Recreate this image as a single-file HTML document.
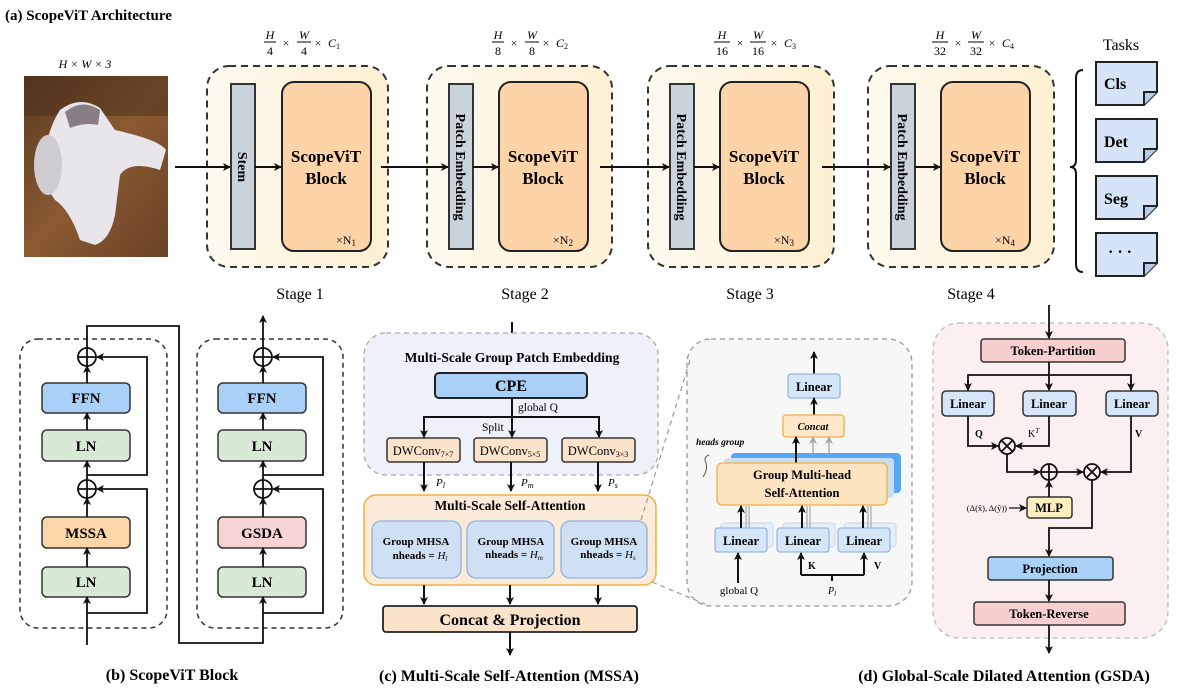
<!DOCTYPE html>
<html><head><meta charset="utf-8"><style>
html,body{margin:0;padding:0;background:#fff;}
svg{display:block;font-family:"Liberation Serif",serif;}
.b{font-weight:bold;}
</style></head><body>
<svg width="1182" height="693" viewBox="0 0 1182 693" xmlns="http://www.w3.org/2000/svg">
<defs>
<marker id="a" markerWidth="8" markerHeight="8" refX="7" refY="4" orient="auto" markerUnits="userSpaceOnUse"><path d="M0,0 L8,4 L0,8 L2,4 z" fill="#111"/></marker>
<marker id="g" markerWidth="8" markerHeight="8" refX="7" refY="4" orient="auto" markerUnits="userSpaceOnUse"><path d="M0,0 L8,4 L0,8 L2,4 z" fill="#aaa"/></marker>
<linearGradient id="yl" x1="0" x2="1"><stop offset="0" stop-color="#fffaf0"/><stop offset="1" stop-color="#fdf0d2"/></linearGradient>
<linearGradient id="cat" x1="0" y1="0" x2="1" y2="1"><stop offset="0" stop-color="#5a3a22"/><stop offset="0.5" stop-color="#8a5a32"/><stop offset="1" stop-color="#6a4226"/></linearGradient>
</defs>

<!-- (a) -->
<text x="5" y="20" class="b" font-size="15">(a) ScopeViT Architecture</text>
<text x="85" y="68" font-size="12" text-anchor="middle" font-style="italic">H × W × 3</text>
<rect x="24" y="76" width="144" height="181" fill="url(#cat)"/>
<rect x="24" y="76" width="144" height="40" fill="#4a2e1a" opacity="0.5"/>
<path d="M60,110 Q80,95 100,108 L115,130 Q160,140 166,150 L160,170 Q130,160 120,175 L115,215 Q110,240 95,245 L80,240 Q70,210 55,200 Q40,180 45,150 Q50,125 60,110z" fill="#e8e6ea"/>
<path d="M65,112 Q82,98 100,110 L98,125 Q85,122 70,128z" fill="#8a7e86"/>
<ellipse cx="48" cy="165" rx="14" ry="30" fill="#cfccd2"/>

<!-- stage boxes -->
<g stroke="#333" stroke-width="2" stroke-dasharray="7,5" fill="url(#yl)">
<rect x="207" y="66" width="181" height="201" rx="22"/>
<rect x="427" y="66" width="185" height="201" rx="22"/>
<rect x="648" y="66" width="186" height="201" rx="22"/>
<rect x="868" y="66" width="186" height="201" rx="22"/>
</g>
<g stroke="#333" stroke-width="2" fill="#c9d3dc">
<rect x="231" y="84" width="24" height="165"/>
<rect x="449" y="84" width="24" height="165"/>
<rect x="670" y="84" width="24" height="165"/>
<rect x="891" y="84" width="24" height="165"/>
</g>
<g stroke="#222" stroke-width="2" fill="#fdd4a8">
<rect x="282" y="82" width="89" height="169" rx="12"/>
<rect x="499" y="82" width="89" height="169" rx="12"/>
<rect x="720" y="82" width="89" height="169" rx="12"/>
<rect x="941" y="82" width="89" height="169" rx="12"/>
</g>
<g class="b" font-size="17" text-anchor="middle">
<text x="326" y="162">ScopeViT</text><text x="326" y="184">Block</text>
<text x="543" y="162">ScopeViT</text><text x="543" y="184">Block</text>
<text x="764" y="162">ScopeViT</text><text x="764" y="184">Block</text>
<text x="985" y="162">ScopeViT</text><text x="985" y="184">Block</text>
</g>
<g class="b" font-size="14" text-anchor="middle">
<text transform="translate(238,167) rotate(90)" y="0">Stem</text>
<text transform="translate(456,167) rotate(90)">Patch Embedding</text>
<text transform="translate(677,167) rotate(90)">Patch Embedding</text>
<text transform="translate(898,167) rotate(90)">Patch Embedding</text>
</g>
<g font-size="12">
<text x="336" y="244">×N<tspan font-size="9" dy="2">1</tspan></text>
<text x="553" y="244">×N<tspan font-size="9" dy="2">2</tspan></text>
<text x="774" y="244">×N<tspan font-size="9" dy="2">3</tspan></text>
<text x="995" y="244">×N<tspan font-size="9" dy="2">4</tspan></text>
</g>
<g stroke="#111" stroke-width="2" marker-end="url(#a)">
<line x1="175" y1="167" x2="230" y2="167"/>
<line x1="255" y1="167" x2="281" y2="167"/>
<line x1="381" y1="167" x2="448" y2="167"/>
<line x1="473" y1="167" x2="498" y2="167"/>
<line x1="600" y1="167" x2="669" y2="167"/>
<line x1="694" y1="167" x2="719" y2="167"/>
<line x1="822" y1="167" x2="890" y2="167"/>
<line x1="915" y1="167" x2="940" y2="167"/>
</g>
<g font-size="16" text-anchor="middle">
<text x="300" y="299">Stage 1</text><text x="525" y="299">Stage 2</text>
<text x="750" y="299">Stage 3</text><text x="971" y="299">Stage 4</text>
</g>
<!-- formulas -->
<g font-size="12" font-style="italic" text-anchor="middle">
<g transform="translate(264,0)"><text x="6" y="39">H</text><line x1="0" y1="42" x2="12" y2="42" stroke="#000"/><text x="6" y="55" font-style="normal">4</text><text x="22" y="47" font-style="normal">×</text><text x="40" y="39">W</text><line x1="33" y1="42" x2="47" y2="42" stroke="#000"/><text x="40" y="55" font-style="normal">4</text><text x="54" y="47" font-style="normal">×</text><text x="70" y="47">C<tspan font-size="8" dy="2" font-style="normal">1</tspan></text></g>
<g transform="translate(492,0)"><text x="6" y="39">H</text><line x1="0" y1="42" x2="12" y2="42" stroke="#000"/><text x="6" y="55" font-style="normal">8</text><text x="22" y="47" font-style="normal">×</text><text x="40" y="39">W</text><line x1="33" y1="42" x2="47" y2="42" stroke="#000"/><text x="40" y="55" font-style="normal">8</text><text x="54" y="47" font-style="normal">×</text><text x="70" y="47">C<tspan font-size="8" dy="2" font-style="normal">2</tspan></text></g>
<g transform="translate(714,0)"><text x="8" y="39">H</text><line x1="0" y1="42" x2="16" y2="42" stroke="#000"/><text x="8" y="55" font-style="normal">16</text><text x="26" y="47" font-style="normal">×</text><text x="44" y="39">W</text><line x1="36" y1="42" x2="52" y2="42" stroke="#000"/><text x="44" y="55" font-style="normal">16</text><text x="60" y="47" font-style="normal">×</text><text x="76" y="47">C<tspan font-size="8" dy="2" font-style="normal">3</tspan></text></g>
<g transform="translate(932,0)"><text x="8" y="39">H</text><line x1="0" y1="42" x2="16" y2="42" stroke="#000"/><text x="8" y="55" font-style="normal">32</text><text x="26" y="47" font-style="normal">×</text><text x="44" y="39">W</text><line x1="36" y1="42" x2="52" y2="42" stroke="#000"/><text x="44" y="55" font-style="normal">32</text><text x="60" y="47" font-style="normal">×</text><text x="76" y="47">C<tspan font-size="8" dy="2" font-style="normal">4</tspan></text></g>
</g>
<!-- tasks -->
<text x="1121" y="50" font-size="16" text-anchor="middle">Tasks</text>
<path d="M1083,70 Q1076,70 1076,78 L1076,160 Q1076,167 1070,167 Q1076,167 1076,174 L1076,264 Q1076,272 1083,272" fill="none" stroke="#111" stroke-width="2"/>
<g stroke="#222" stroke-width="2">
<path d="M1096,62 H1157 V92 L1144,105 H1096 Z" fill="#d5e4f7"/><path d="M1144,105 V92 H1157" fill="#b8cbe6"/>
<path d="M1096,119 H1157 V149 L1144,162 H1096 Z" fill="#d5e4f7"/><path d="M1144,162 V149 H1157" fill="#b8cbe6"/>
<path d="M1096,176 H1157 V206 L1144,219 H1096 Z" fill="#d5e4f7"/><path d="M1144,219 V206 H1157" fill="#b8cbe6"/>
<path d="M1096,233 H1157 V263 L1144,276 H1096 Z" fill="#d5e4f7"/><path d="M1144,276 V263 H1157" fill="#b8cbe6"/>
</g>
<g class="b" font-size="16">
<text x="1104" y="89">Cls</text><text x="1104" y="147">Det</text><text x="1104" y="204">Seg</text><text x="1108" y="257">· · ·</text>
</g>

<!-- (b) -->
<g stroke="#333" stroke-width="1.5" stroke-dasharray="5,4" fill="none">
<rect x="20" y="339" width="147" height="289" rx="18"/>
<rect x="197" y="339" width="146" height="289" rx="18"/>
</g>
<g stroke="#333" stroke-width="1.5">
<rect x="42" y="383" width="88" height="30" rx="5" fill="#a9d0f7"/>
<rect x="42" y="430" width="88" height="31" rx="5" fill="#d8e9d6"/>
<rect x="42" y="517" width="88" height="31" rx="5" fill="#fcd5a8"/>
<rect x="42" y="567" width="88" height="30" rx="5" fill="#d8e9d6"/>
<rect x="218" y="383" width="88" height="30" rx="5" fill="#a9d0f7"/>
<rect x="218" y="430" width="88" height="31" rx="5" fill="#d8e9d6"/>
<rect x="218" y="517" width="88" height="31" rx="5" fill="#f8d3d3"/>
<rect x="218" y="567" width="88" height="30" rx="5" fill="#d8e9d6"/>
</g>
<g class="b" font-size="15" text-anchor="middle">
<text x="86" y="403">FFN</text><text x="86" y="451">LN</text><text x="86" y="538">MSSA</text><text x="86" y="587">LN</text>
<text x="262" y="403">FFN</text><text x="262" y="451">LN</text><text x="262" y="538">GSDA</text><text x="262" y="587">LN</text>
</g>
<g stroke="#111" stroke-width="1.8" fill="none">
<circle cx="87" cy="357" r="9"/><path d="M78,357H96M87,348V366"/>
<circle cx="87" cy="489" r="9"/><path d="M78,489H96M87,480V498"/>
<circle cx="263" cy="357" r="9"/><path d="M254,357H272M263,348V366"/>
<circle cx="263" cy="489" r="9"/><path d="M254,489H272M263,480V498"/>
<path d="M87,645V613H147V489H97" marker-end="url(#a)"/>
<path d="M87,475H147V357H97" marker-end="url(#a)"/>
<path d="M87,348V326H179V643H263V613H323V489H273" marker-end="url(#a)"/>
<path d="M263,475H323V357H273" marker-end="url(#a)"/>
<g marker-end="url(#a)">
<line x1="87" y1="613" x2="87" y2="597"/><line x1="87" y1="567" x2="87" y2="548"/><line x1="87" y1="517" x2="87" y2="498"/>
<line x1="87" y1="480" x2="87" y2="461"/><line x1="87" y1="430" x2="87" y2="413"/><line x1="87" y1="383" x2="87" y2="366"/>
<line x1="263" y1="613" x2="263" y2="597"/><line x1="263" y1="567" x2="263" y2="548"/><line x1="263" y1="517" x2="263" y2="498"/>
<line x1="263" y1="480" x2="263" y2="461"/><line x1="263" y1="430" x2="263" y2="413"/><line x1="263" y1="383" x2="263" y2="366"/>
<line x1="263" y1="348" x2="263" y2="316"/>
</g>
</g>
<text x="172" y="680" class="b" font-size="16" text-anchor="middle">(b) ScopeViT Block</text>

<!-- (c) -->
<line x1="512" y1="322" x2="512" y2="345" stroke="#111" stroke-width="2" marker-end="url(#a)"/>
<rect x="364" y="333" width="294" height="142" rx="22" fill="#eef1f9" stroke="#aaa" stroke-width="1.3" stroke-dasharray="5,4"/>
<text x="512" y="362" class="b" font-size="13.5" text-anchor="middle">Multi-Scale Group Patch Embedding</text>
<rect x="435" y="373" width="152" height="25" rx="4" fill="#a9d0f7" stroke="#222" stroke-width="2"/>
<text x="511" y="391" class="b" font-size="16" text-anchor="middle">CPE</text>
<text x="518" y="411" font-size="11.5">global Q</text>
<text x="482" y="431" font-size="11.5">Split</text>
<g stroke="#111" stroke-width="2" fill="none">
<line x1="512" y1="398" x2="512" y2="437" marker-end="url(#a)"/>
<path d="M424,437V417H599V437" />
<line x1="424" y1="420" x2="424" y2="437" marker-end="url(#a)"/>
<line x1="599" y1="420" x2="599" y2="437" marker-end="url(#a)"/>
</g>
<g stroke="#333" stroke-width="1.5" fill="#fbe3cb">
<rect x="387" y="438" width="73" height="24" rx="3"/><rect x="474" y="438" width="73" height="24" rx="3"/><rect x="562" y="438" width="73" height="24" rx="3"/>
</g>
<g font-size="12.5" text-anchor="middle">
<text x="423" y="455">DWConv<tspan font-size="8" dy="2">7×7</tspan></text>
<text x="510" y="455">DWConv<tspan font-size="8" dy="2">5×5</tspan></text>
<text x="598" y="455">DWConv<tspan font-size="8" dy="2">3×3</tspan></text>
</g>
<rect x="364" y="495" width="292" height="90" rx="12" fill="#fcebd9" stroke="#f0b040" stroke-width="1.5"/>
<g stroke="#111" stroke-width="2" marker-end="url(#a)">
<line x1="424" y1="462" x2="424" y2="491"/><line x1="511" y1="462" x2="511" y2="491"/><line x1="598" y1="462" x2="598" y2="491"/>
</g>
<g font-size="11" font-style="italic">
<text x="436" y="486">P<tspan font-size="8" dy="2">l</tspan></text><text x="521" y="486">P<tspan font-size="8" dy="2">m</tspan></text><text x="608" y="486">P<tspan font-size="8" dy="2">s</tspan></text>
</g>
<text x="510" y="510" class="b" font-size="13.5" text-anchor="middle">Multi-Scale Self-Attention</text>
<g fill="#cfe0f5" stroke="#93b3dd" stroke-width="1.3">
<rect x="372" y="521" width="89" height="57" rx="9"/><rect x="467" y="521" width="87" height="57" rx="9"/><rect x="561" y="521" width="86" height="57" rx="9"/>
</g>
<g class="b" font-size="11" text-anchor="middle">
<text x="416" y="545">Group MHSA</text><text x="420" y="559">nheads = <tspan font-style="italic" font-weight="normal">H<tspan font-size="7" dy="2">l</tspan></tspan></text>
<text x="511" y="545">Group MHSA</text><text x="514" y="558">nheads = <tspan font-style="italic" font-weight="normal">H<tspan font-size="7" dy="2">m</tspan></tspan></text>
<text x="604" y="545">Group MHSA</text><text x="608" y="558">nheads = <tspan font-style="italic" font-weight="normal">H<tspan font-size="7" dy="2">s</tspan></tspan></text>
</g>
<g stroke="#111" stroke-width="2" marker-end="url(#a)">
<line x1="424" y1="585" x2="424" y2="604"/><line x1="510" y1="585" x2="510" y2="604"/><line x1="598" y1="585" x2="598" y2="604"/>
<line x1="510" y1="632" x2="510" y2="655"/>
</g>
<rect x="383" y="606" width="254" height="26" rx="3" fill="#fbe3cb" stroke="#222" stroke-width="1.8"/>
<text x="510" y="625" class="b" font-size="16" text-anchor="middle">Concat &amp; Projection</text>
<text x="509" y="681" class="b" font-size="16" text-anchor="middle">(c) Multi-Scale Self-Attention (MSSA)</text>

<!-- zoom panel -->
<rect x="687" y="339" width="225" height="267" rx="24" fill="#f7f7f7" stroke="#999" stroke-width="1.3" stroke-dasharray="5,4"/>
<g stroke="#999" stroke-width="1.2" stroke-dasharray="5,4">
<line x1="641" y1="520" x2="690" y2="360"/><line x1="652" y1="582" x2="705" y2="604"/>
</g>
<line x1="814" y1="374" x2="814" y2="352" stroke="#111" stroke-width="2" marker-end="url(#a)"/>
<rect x="788" y="374" width="52" height="24" rx="3" fill="#d5e6f8" stroke="#9ab8e0" stroke-width="1.3"/>
<text x="814" y="391" class="b" font-size="12.5" text-anchor="middle">Linear</text>
<line x1="814" y1="415" x2="814" y2="398" stroke="#111" stroke-width="2" marker-end="url(#a)"/>
<rect x="783" y="415" width="61" height="22" rx="3" fill="#fde7c8" stroke="#f0b040" stroke-width="1.3"/>
<text x="813" y="430" class="b" font-style="italic" font-size="10.5" text-anchor="middle">Concat</text>
<rect x="731" y="453" width="170" height="40" rx="4" fill="#5aa8f0"/>
<rect x="724" y="458" width="170" height="40" rx="4" fill="#c8def5"/>
<line x1="796" y1="463" x2="796" y2="437" stroke="#111" stroke-width="2" marker-end="url(#a)"/>
<line x1="813" y1="453" x2="813" y2="437" stroke="#aaa" stroke-width="1.5" marker-end="url(#g)"/>
<line x1="829" y1="453" x2="829" y2="437" stroke="#aaa" stroke-width="1.5" marker-end="url(#g)"/>
<rect x="717" y="463" width="170" height="42" rx="5" fill="#fde3c0" stroke="#f0b040" stroke-width="1.3"/>
<text x="802" y="479" class="b" font-size="12.5" text-anchor="middle">Group Multi-head</text>
<text x="802" y="497" class="b" font-size="12.5" text-anchor="middle">Self-Attention</text>
<text x="696" y="445" font-style="italic" font-weight="bold" font-size="9.5">heads group</text>
<path d="M709,455 Q703,457 706,463 Q708,470 703,477" fill="none" stroke="#555" stroke-width="1"/>
<g fill="#e6eef8" stroke="#c8d6ea" stroke-width="1">
<rect x="721" y="523" width="52" height="24" rx="3"/><rect x="783" y="523" width="52" height="24" rx="3"/><rect x="844" y="523" width="52" height="24" rx="3"/>
</g>
<g stroke="#aaa" stroke-width="1.2">
<line x1="746" y1="528" x2="746" y2="506"/><line x1="749" y1="528" x2="749" y2="506"/>
<line x1="807" y1="528" x2="807" y2="506"/><line x1="810" y1="528" x2="810" y2="506"/>
<line x1="868" y1="528" x2="868" y2="506"/><line x1="871" y1="528" x2="871" y2="506"/>
</g>
<g fill="#d5e6f8" stroke="#9ab8e0" stroke-width="1.3">
<rect x="715" y="528" width="52" height="24" rx="3"/><rect x="777" y="528" width="52" height="24" rx="3"/><rect x="838" y="528" width="52" height="24" rx="3"/>
</g>
<g class="b" font-size="12.5" text-anchor="middle">
<text x="741" y="545">Linear</text><text x="803" y="545">Linear</text><text x="864" y="545">Linear</text>
</g>
<g stroke="#111" stroke-width="2" fill="none">
<line x1="741" y1="528" x2="741" y2="506" marker-end="url(#a)"/>
<line x1="802" y1="528" x2="802" y2="506" marker-end="url(#a)"/>
<line x1="863" y1="528" x2="863" y2="506" marker-end="url(#a)"/>
<line x1="738" y1="583" x2="738" y2="553" marker-end="url(#a)"/>
<line x1="801" y1="575" x2="801" y2="553" marker-end="url(#a)"/>
<line x1="864" y1="575" x2="864" y2="553" marker-end="url(#a)"/>
<path d="M801,575H864M832,575V581"/>
</g>
<text x="739" y="594" font-size="11" text-anchor="middle">global Q</text>
<text x="808" y="569" class="b" font-size="10">K</text><text x="874" y="569" class="b" font-size="10">V</text>
<text x="828" y="594" font-size="10" font-style="italic">P<tspan font-size="7" dy="2">l</tspan></text>

<!-- (d) -->
<rect x="933" y="323" width="235" height="315" rx="26" fill="#fcefef" stroke="#bbb" stroke-width="1.3" stroke-dasharray="5,4"/>
<g stroke="#333" stroke-width="1.5">
<rect x="981" y="339" width="144" height="23" rx="3" fill="#f7cfcf"/>
<rect x="942" y="391" width="52" height="25" rx="4" fill="#d5e6f8"/>
<rect x="1023" y="391" width="53" height="25" rx="4" fill="#d5e6f8"/>
<rect x="1106" y="391" width="52" height="25" rx="4" fill="#d5e6f8"/>
<rect x="1027" y="497" width="45" height="21" rx="3" fill="#fbefc0"/>
<rect x="988" y="557" width="125" height="23" rx="3" fill="#a9d0f7"/>
<rect x="974" y="602" width="151" height="23" rx="3" fill="#f7cfcf"/>
</g>
<g class="b" font-size="12.5" text-anchor="middle">
<text x="1053" y="355">Token-Partition</text>
<text x="968" y="408">Linear</text><text x="1049" y="408">Linear</text><text x="1132" y="408">Linear</text>
<text x="1049" y="512">MLP</text>
<text x="1050" y="573">Projection</text>
<text x="1049" y="618">Token-Reverse</text>
</g>
<text x="975" y="437" class="b" font-size="10">Q</text>
<text x="1028" y="437" font-size="10">K<tspan font-size="7" dy="-4" font-style="italic">T</tspan></text>
<text x="1135" y="437" class="b" font-size="10">V</text>
<text x="1007" y="511" font-size="8.5" text-anchor="end">(Δ(x̂), Δ(ŷ))</text>
<g stroke="#111" stroke-width="1.8" fill="none">
<line x1="1049" y1="305" x2="1049" y2="338" marker-end="url(#a)"/>
<path d="M968,390V375H1131V390"/>
<line x1="968" y1="380" x2="968" y2="390" marker-end="url(#a)"/>
<line x1="1049" y1="362" x2="1049" y2="390" marker-end="url(#a)"/>
<line x1="1131" y1="380" x2="1131" y2="390" marker-end="url(#a)"/>
<circle cx="1007" cy="446" r="8"/><path d="M1001.3,440.3L1012.7,451.7M1012.7,440.3L1001.3,451.7"/>
<circle cx="1049" cy="472" r="8"/><path d="M1041,472H1057M1049,464V480"/>
<circle cx="1092" cy="472" r="8"/><path d="M1086.3,466.3L1097.7,477.7M1097.7,466.3L1086.3,477.7"/>
<path d="M968,416V446H998" marker-end="url(#a)"/>
<path d="M1049,416V446H1016" marker-end="url(#a)"/>
<path d="M1007,454V472H1040" marker-end="url(#a)"/>
<line x1="1057" y1="472" x2="1083" y2="472" marker-end="url(#a)"/>
<path d="M1131,416V472H1101" marker-end="url(#a)"/>
<line x1="1049" y1="497" x2="1049" y2="481" marker-end="url(#a)"/>
<line x1="1009" y1="508" x2="1026" y2="508" stroke-width="1.2" marker-end="url(#a)"/>
<path d="M1092,480V528H1049V556" marker-end="url(#a)"/>
<line x1="1049" y1="580" x2="1049" y2="601" marker-end="url(#a)"/>
<line x1="1049" y1="625" x2="1049" y2="653" marker-end="url(#a)"/>
</g>
<text x="1004" y="681" class="b" font-size="16" text-anchor="middle">(d) Global-Scale Dilated Attention (GSDA)</text>
</svg>
</body></html>
